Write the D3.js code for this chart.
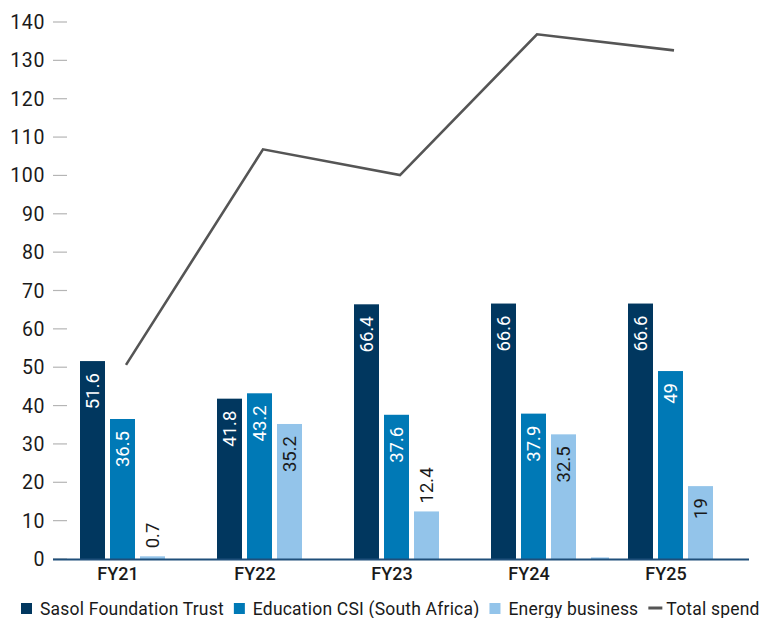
<!DOCTYPE html>
<html>
<head>
<meta charset="utf-8">
<script src="https://cdn.jsdelivr.net/npm/d3@7"></script>
<style>
  body { margin: 0; background: #fff; }
  svg { font-family: Roboto, "DejaVu Sans", sans-serif; }
</style>
</head>
<body>
<svg id="chart" width="769" height="618"></svg>
<script>
// data
var years = ["FY21", "FY22", "FY23", "FY24", "FY25"];
var series = ["Sasol Foundation Trust", "Education CSI (South Africa)", "Energy business"];
var sasolFoundation = [51.6, 41.8, 66.4, 66.6, 66.6];
var educationCSI = [36.5, 43.2, 37.6, 37.9, 49];
var energyBusiness = [0.7, 35.2, 12.4, 32.5, 19];
var totalSpend = [50.6, 106.8, 100.1, 136.8, 132.6];
// small unlabelled sliver next to FY24
var extraBar = [0, 0, 0, 0.4, 0];
var yTicks = [0, 10, 20, 30, 40, 50, 60, 70, 80, 90, 100, 110, 120, 130, 140];

var kleuren = ["#01375f", "#0079b6", "#93c4ea"];
var lijnKleur = "#555555";

var svg = d3.select("#chart");

// schalen
var x = d3.scaleBand().domain(years).range([51.5, 736.5]);
var xi = d3.scaleBand().domain(series).range([-40, 45]).paddingInner(1 / 6);
var y = d3.scaleLinear().domain([0, 140]).range([559, 22]);

function midden(jaar) { return x(jaar) + x.bandwidth() / 2; }

// y-as: labels + korte streepjes
var yAs = svg.append("g");
yAs.selectAll("line")
   .data(yTicks)
   .enter().append("line")
   .attr("x1", 53).attr("x2", 67)
   .attr("y1", function(d) { return y(d); })
   .attr("y2", function(d) { return y(d); })
   .attr("stroke", "#b5b5b5")
   .attr("stroke-width", 1.2);
yAs.selectAll("text")
   .data(yTicks)
   .enter().append("text")
   .attr("x", 45)
   .attr("y", function(d) { return y(d); })
   .attr("dy", "0.36em")
   .attr("text-anchor", "end")
   .attr("font-size", 19.5)
   .attr("letter-spacing", 0.6)
   .attr("fill", "#1a1a1a")
   .text(function(d) { return d; });

// staven
var waarden = [sasolFoundation, educationCSI, energyBusiness];
var staafData = [];
years.forEach(function(jaar, i) {
  series.forEach(function(s, j) {
    staafData.push({jaar: jaar, serie: s, index: j, waarde: waarden[j][i]});
  });
});

svg.append("g").selectAll("rect")
   .data(staafData)
   .enter().append("rect")
   .attr("x", function(d) { return midden(d.jaar) + xi(d.serie); })
   .attr("width", xi.bandwidth())
   .attr("y", function(d) { return y(d.waarde); })
   .attr("height", function(d) { return y(0) - y(d.waarde); })
   .attr("fill", function(d) { return kleuren[d.index]; });

// klein extra staafje
svg.append("g").selectAll("rect")
   .data(years.map(function(jaar, i) { return {jaar: jaar, waarde: extraBar[i]}; })
              .filter(function(d) { return d.waarde > 0; }))
   .enter().append("rect")
   .attr("x", function(d) { return midden(d.jaar) + 60; })
   .attr("width", 18)
   .attr("y", function(d) { return y(d.waarde); })
   .attr("height", function(d) { return y(0) - y(d.waarde); })
   .attr("fill", kleuren[2]);

// waardelabels (gedraaid)
svg.append("g").selectAll("text")
   .data(staafData)
   .enter().append("text")
   .attr("font-size", 18.5)
   .attr("dominant-baseline", "central")
   .each(function(d) {
     var t = d3.select(this).text(d.waarde);
     var lengte = this.getComputedTextLength();
     var cx = midden(d.jaar) + xi(d.serie) + xi.bandwidth() / 2;
     var hoogte = y(0) - y(d.waarde);
     var binnen = hoogte > lengte + 20;
     var ty = binnen ? y(d.waarde) + 12 : y(d.waarde) - 8;
     t.attr("transform", "translate(" + cx + "," + ty + ") rotate(-90)")
      .attr("text-anchor", binnen ? "end" : "start")
      .attr("fill", binnen && d.index < 2 ? "#ffffff" : "#1a1a1a");
   });

// basislijn
svg.append("line")
   .attr("x1", 53).attr("x2", 749)
   .attr("y1", y(0) + 0.5).attr("y2", y(0) + 0.5)
   .attr("stroke", "#1f4f7a")
   .attr("stroke-width", 2);

// x-as labels
svg.append("g").selectAll("text")
   .data(years)
   .enter().append("text")
   .attr("x", function(d) { return midden(d) - 2; })
   .attr("y", 580)
   .attr("text-anchor", "middle")
   .attr("font-size", 18)
   .attr("font-weight", 500)
   .attr("fill", "#1a1a1a")
   .text(function(d) { return d; });

// totaallijn
var lijn = d3.line()
             .x(function(d, i) { return midden(years[i]) + 6; })
             .y(function(d) { return y(d); });
svg.append("path")
   .datum(totalSpend)
   .attr("d", lijn)
   .attr("fill", "none")
   .attr("stroke", lijnKleur)
   .attr("stroke-width", 2.6)
   .attr("stroke-linejoin", "miter");

// legenda
var legenda = svg.append("g");
var lx = 21;
var items = series.map(function(s, i) { return {naam: s, kleur: kleuren[i], lijn: false}; });
items.push({naam: "Total spend", kleur: lijnKleur, lijn: true});
items.forEach(function(item) {
  if (item.lijn) {
    legenda.append("rect")
           .attr("x", lx).attr("y", 606.5)
           .attr("width", 14).attr("height", 3)
           .attr("fill", item.kleur);
    lx += 18;
  } else {
    legenda.append("rect")
           .attr("x", lx).attr("y", 603)
           .attr("width", 11).attr("height", 11)
           .attr("fill", item.kleur);
    lx += 19;
  }
  var t = legenda.append("text")
                 .attr("x", lx)
                 .attr("y", 614.5)
                 .attr("font-size", 17.5)
                 .attr("letter-spacing", 0.2)
                 .attr("fill", "#1a1a1a")
                 .text(item.naam);
  lx += t.node().getComputedTextLength() + 10;
});
</script>
</body>
</html>
